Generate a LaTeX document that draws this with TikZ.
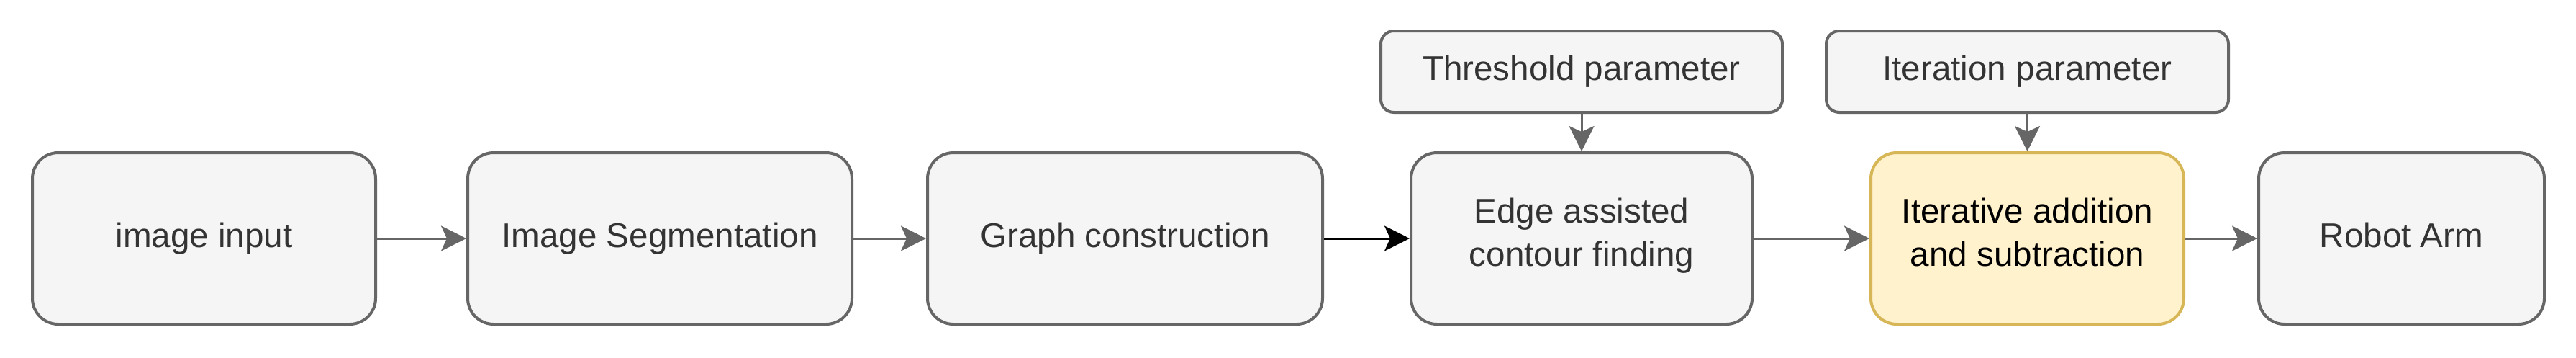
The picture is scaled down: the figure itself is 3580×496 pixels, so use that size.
\documentclass[tikz,border=0pt]{standalone}
\usepackage{fontspec}
\setmainfont{Liberation Sans}
\usetikzlibrary{arrows.meta}
\definecolor{boxfill}{HTML}{F5F5F5}
\definecolor{boxline}{HTML}{666666}
\definecolor{boxtext}{HTML}{333333}
\definecolor{focusfill}{HTML}{FFF2CC}
\definecolor{focusline}{HTML}{D6B656}
\begin{document}
\begin{tikzpicture}
[x=0.25pt,y=-0.25pt,
  stagedecorate/.style={shape=rectangle,rounded corners=9pt,draw=boxline,fill=boxfill,
    text=boxtext,line width=1pt,minimum height=59.5pt,align=center,
    font=\fontsize{11.9}{15}\selectfont,
    execute at begin node=\strut,execute at end node=\strut},
  focusdecorate/.style={stagedecorate,draw=focusline,fill=focusfill,text=black},
  paramdecorate/.style={stagedecorate,rounded corners=4.5pt,minimum height=28.25pt},
  linedecorate/.style={-{Stealth[length=8.75pt,width=8.75pt,inset=2pt]},
    line width=0.75pt,draw=boxline}]
\useasboundingbox (0,0) rectangle (3580,496);
%% stages of the pipeline
\foreach \nodename/\nodelabel/\x/\y/\w/\decorate in {
  input/{image input}/283.5/331/477/stagedecorate,
  seg/{Image Segmentation}/917/331/534/stagedecorate,
  graph/{Graph construction}/1563.5/331/549/stagedecorate,
  contour/{Edge assisted\\contour finding}/2198/331/474/stagedecorate,
  iter/{Iterative addition\\and subtraction}/2817.5/331/435/focusdecorate,
  robot/{Robot Arm}/3337.5/331/397/stagedecorate,
  thresh/{Threshold parameter}/2198/99.5/558/paramdecorate,
  iterpar/{Iteration parameter}/2817.5/99.5/559/paramdecorate} {
  \node (\nodename) at (\x,\y) [\decorate,minimum width=\w*0.25pt] {\nodelabel};
}
%% connectors
\path
\foreach \startnode/\endnode in {input/seg, seg/graph, contour/iter,
  iter/robot, thresh/contour, iterpar/iter} {
  (\startnode) edge[linedecorate] (\endnode)
};
\path (graph) edge[linedecorate,draw=black] (contour);
\end{tikzpicture}
\end{document}
